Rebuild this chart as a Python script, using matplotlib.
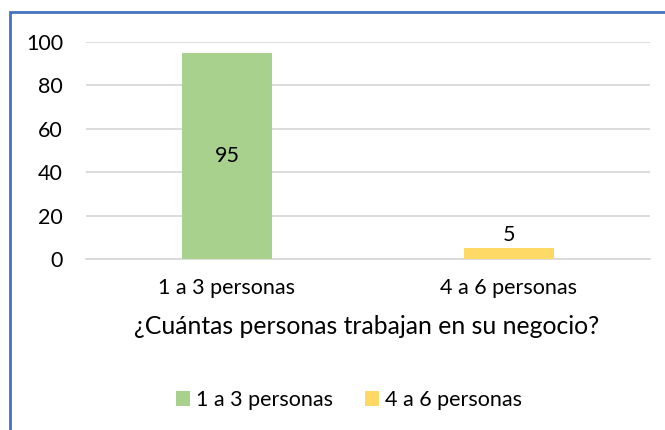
import matplotlib
matplotlib.use("Agg")
import matplotlib.pyplot as plt
from matplotlib.patches import Rectangle, Patch

categories = ["1 a 3 personas", "4 a 6 personas"]
values = [95, 5]
colors = ["#A9D18E", "#FFD966"]
yticks = [0, 20, 40, 60, 80, 100]
xlabel = "¿Cuántas personas trabajan en su negocio?"

plt.rcParams['font.family'] = ['Lato', 'DejaVu Sans']

W, H = 665, 430
fig = plt.figure(figsize=(W/100, H/100), dpi=100)
ax = fig.add_axes([86/W, 1-259/H, (650-86)/W, (259-41.7)/H])

x = list(range(len(categories)))
bars = ax.bar(x, values, width=0.316, color=colors, zorder=3)
ax.set_xlim(-0.5, 1.5)
ax.set_ylim(0, 100)
ax.set_yticks(yticks)
ax.set_xticks(x)
ax.set_xticklabels(categories)
ax.grid(axis='y', color='#D9D9D9', linewidth=1.3, zorder=0)
for s in ['top', 'right', 'left']:
    ax.spines[s].set_visible(False)
ax.spines['bottom'].set_color('#D9D9D9')
ax.spines['bottom'].set_linewidth(1.3)
ax.tick_params(axis='both', length=0, labelsize=15.5, colors='#000000')
ax.tick_params(axis='y', pad=16.5)
ax.tick_params(axis='x', pad=14)

# data labels
ax.text(x[0], values[0]/2, str(values[0]), ha='center', va='center', fontsize=15.5)
ax.text(x[1], values[1] + 1.5, str(values[1]), ha='center', va='bottom', fontsize=15.5)

fig.text(366.5/W, 1-327/H, xlabel, ha='center', va='center', fontsize=17.8)

handles = [Patch(facecolor=c, edgecolor='none') for c in colors]
fig.legend(handles, categories, loc='center', bbox_to_anchor=(349/W, 1-400/H),
           ncol=2, frameon=False, fontsize=15.5, handlelength=0.65, handleheight=0.65,
           handletextpad=0.28, columnspacing=1.5, borderpad=0, borderaxespad=0)

fig.patches.append(Rectangle((9.5/W, -0.1), 1.2, 1-12/H + 0.1, transform=fig.transFigure,
                             fill=False, edgecolor='#4472C4', linewidth=2.0))

fig.savefig("out.png", dpi=100)
